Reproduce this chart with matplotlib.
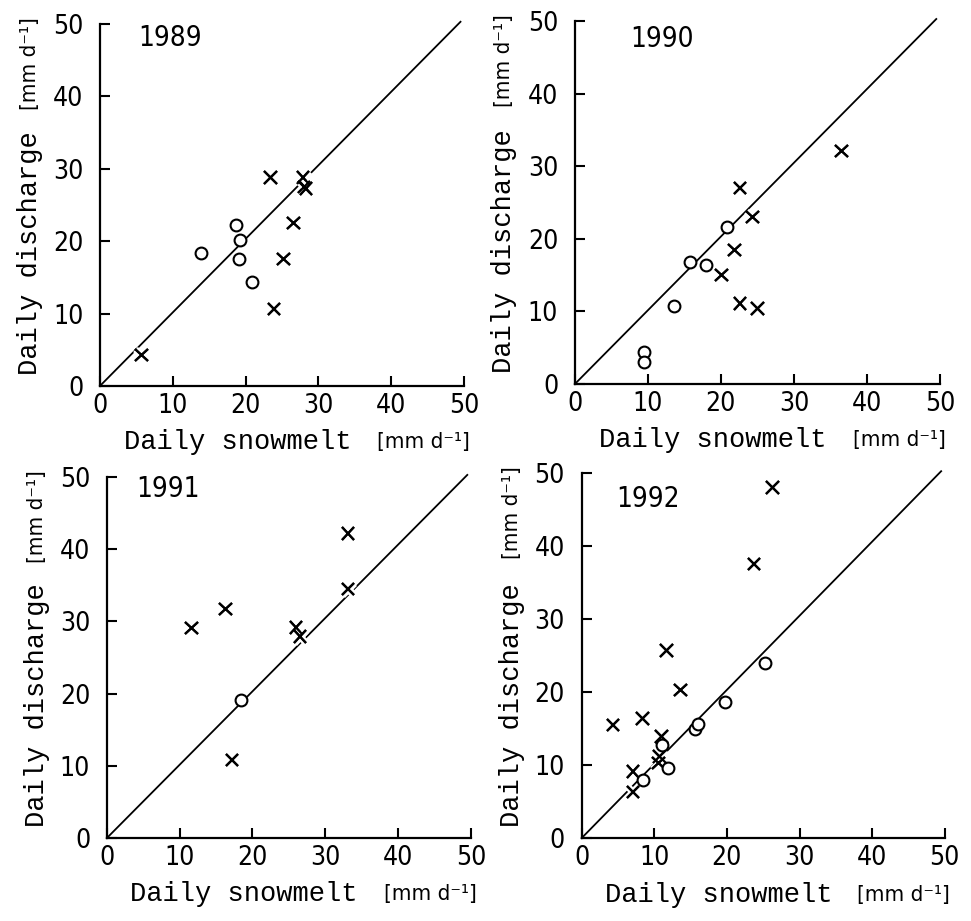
import matplotlib
matplotlib.use('Agg')
import matplotlib.pyplot as plt
import matplotlib.patheffects as pe

# Observed daily snowmelt vs daily discharge, per year
years = ['1989', '1990', '1991', '1992']

# open circles
c89_x = [13.9, 18.7, 19.2, 19.1, 20.9]
c89_y = [18.3, 22.2, 20.2, 17.5, 14.3]
c90_x = [9.5, 9.5, 13.6, 15.8, 18.0, 20.8]
c90_y = [4.4, 3.1, 10.7, 16.8, 16.4, 21.6]
c91_x = [18.4]
c91_y = [19.1]
c92_x = [8.4, 11.1, 11.9, 15.6, 16.0, 19.8, 25.3]
c92_y = [7.9, 12.7, 9.6, 14.9, 15.6, 18.6, 24.0]

# crosses
x89_x = [5.7, 23.4, 23.9, 25.2, 26.6, 27.9, 28.0, 28.3]
x89_y = [4.3, 28.8, 10.6, 17.5, 22.5, 28.8, 27.5, 27.3]
x90_x = [20.1, 21.9, 22.6, 22.6, 24.3, 25.0, 36.5]
x90_y = [15.0, 18.5, 27.0, 11.1, 23.0, 10.4, 32.1]
x91_x = [11.6, 16.3, 17.2, 26.0, 26.5, 33.1, 33.1]
x91_y = [29.1, 31.7, 10.8, 29.2, 27.9, 42.2, 34.5]
x92_x = [4.3, 7.1, 7.1, 8.4, 11.0, 10.7, 10.6, 11.7, 13.6, 23.7, 26.3]
x92_y = [15.5, 9.1, 6.3, 16.4, 13.9, 11.2, 10.3, 25.7, 20.3, 37.6, 48.1]

circles = [(c89_x, c89_y), (c90_x, c90_y), (c91_x, c91_y), (c92_x, c92_y)]
crosses = [(x89_x, x89_y), (x90_x, x90_y), (x91_x, x91_y), (x92_x, x92_y)]

# where the year label sits (data coords)
year_pos = [(9.6, 48.0), (11.9, 47.5), (8.4, 48.4), (9.1, 46.5)]

ticks = [0, 10, 20, 30, 40, 50]

# condensed sans for numbers, monospace for the axis titles
narrow = dict(family='DejaVu Sans', fontstretch='condensed')
mono = ['Liberation Mono', 'DejaVu Sans Mono']

# axes boxes [left, bottom, width, height] in figure fractions
boxes = [[0.103, 0.581, 0.375, 0.393],
         [0.592, 0.583, 0.376, 0.394],
         [0.110, 0.090, 0.375, 0.392],
         [0.599, 0.090, 0.374, 0.396]]

fig = plt.figure(figsize=(9.71, 9.21), dpi=100)

halo = [pe.withStroke(linewidth=5, foreground='white'), pe.Normal()]

for k in range(4):
	ax = fig.add_axes(boxes[k])
	ax.set_xlim(0, 50)
	ax.set_ylim(0, 50)

	# 1:1 line
	ax.plot([0, 49.5], [0, 50.3], color='black', lw=1.3, zorder=1, clip_on=False)

	cx, cy = crosses[k]
	ax.plot(cx, cy, 'x', color='black', ms=9, mew=1.6, zorder=3, clip_on=False,
			path_effects=halo)
	ox, oy = circles[k]
	ax.plot(ox, oy, 'o', mfc='white', mec='black', ms=8.5, mew=1.5, zorder=4, clip_on=False)

	ax.text(year_pos[k][0], year_pos[k][1], years[k], ha='center', va='center',
			fontsize=20, **narrow)

	for s in ['top', 'right']:
		ax.spines[s].set_visible(False)
	for s in ['left', 'bottom']:
		ax.spines[s].set_linewidth(1.6)

	ax.set_xticks(ticks)
	ax.set_yticks(ticks)
	ax.set_xticklabels([str(t) for t in ticks], fontsize=19, **narrow)
	ax.set_yticklabels([str(t) for t in ticks], fontsize=19, **narrow)
	ax.tick_params(axis='both', direction='in', length=7, width=1.5)
	ax.tick_params(axis='x', pad=5)
	ax.tick_params(axis='y', pad=12)

	# axis titles: big monospace part + smaller unit part
	ax.text(-0.193, 0.03, 'Daily discharge', transform=ax.transAxes, rotation=90,
			rotation_mode='anchor', ha='left', va='center', fontsize=19.5, family=mono)
	ax.text(-0.193, 1.02, '[mm d\u207b\u00b9]', transform=ax.transAxes, rotation=90,
			rotation_mode='anchor', ha='right', va='center', fontsize=16, **narrow)
	ax.text(0.065, -0.155, 'Daily snowmelt', transform=ax.transAxes,
			ha='left', va='center', fontsize=19.5, family=mono)
	ax.text(1.015, -0.155, '[mm d\u207b\u00b9]', transform=ax.transAxes,
			ha='right', va='center', fontsize=16, **narrow)

fig.savefig('out.png', dpi=100)
plt.close(fig)
